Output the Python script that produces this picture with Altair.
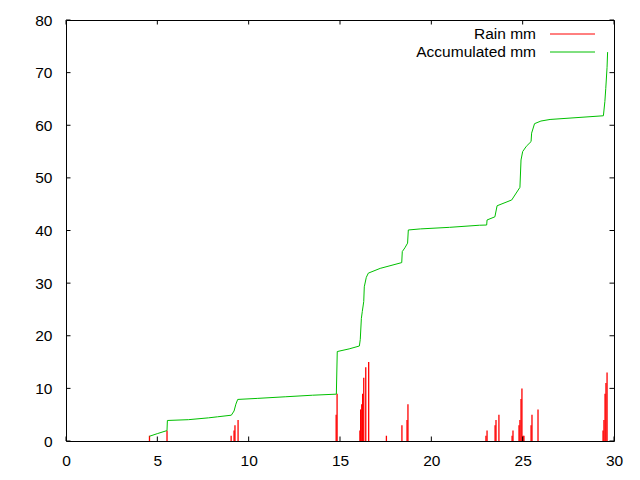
import altair as alt
import pandas as pd

# Rain impulses (day, mm)
rain_day = [4.57, 5.53, 9.04, 9.20, 9.25, 9.42, 14.79, 14.84,
            16.09, 16.13, 16.19, 16.24, 16.30, 16.41, 16.57, 17.54,
            18.39, 18.67, 18.72, 22.99, 23.05, 23.49, 23.54, 23.70,
            24.42, 24.47, 24.80, 24.85, 24.91, 24.96, 25.02, 25.07,
            25.46, 25.51, 25.84, 29.40, 29.45, 29.51, 29.56, 29.62]
rain_mm = [1, 2, 1, 2, 3, 4, 5, 9,
           2, 6, 7, 9, 12, 14, 15, 1,
           3, 4, 7, 1, 2, 3, 4, 5,
           1, 2, 3, 4, 8, 10, 1, 1,
           3, 5, 6, 2, 4, 9, 11, 13]

# Accumulated curve (day, mm)
acc_day = [4.57, 5.0, 5.5, 5.53, 5.55, 6.7, 7.8, 8.3, 9.05, 9.2, 9.3, 9.4,
           10.5, 12.0, 13.5, 14.8, 14.85, 15.5, 16.06, 16.11, 16.17, 16.22,
           16.30, 16.33, 16.44, 16.55, 17.2, 18.38, 18.41, 18.55, 18.70,
           18.74, 19.4, 21.0, 22.63, 23.03, 23.05, 23.48, 23.6, 24.40,
           24.85, 24.91, 25.0, 25.2, 25.46, 25.49, 25.65, 26.0, 26.5,
           29.42, 29.5, 29.55, 29.62, 29.65]
acc_mm = [0.9, 1.4, 1.95, 2.0, 3.9, 4.05, 4.4, 4.6, 4.9, 5.7, 7.0, 7.9,
          8.1, 8.4, 8.7, 8.9, 17.0, 17.5, 18.05, 19.3, 23.3, 24.6,
          26.5, 29.3, 31.1, 31.9, 32.8, 33.9, 36.0, 36.7, 37.6,
          40.1, 40.3, 40.6, 41.0, 41.04, 42.0, 42.6, 44.7, 45.8,
          48.2, 53.4, 55.0, 56.0, 56.9, 58.5, 60.3, 60.8, 61.1,
          61.8, 64.5, 67.0, 71.0, 73.9]

x_ticks = [0, 5, 10, 15, 20, 25, 30]
y_ticks = [0, 10, 20, 30, 40, 50, 60, 70, 80]
legend_labels = ["Rain mm", "Accumulated mm"]
legend_colors = ["#ff0000", "#00c000"]

W, H = 548, 421
FONT = "Liberation Sans"
FS = 15.5

rain_df = pd.DataFrame({"day": rain_day, "mm": rain_mm})
acc_df = pd.DataFrame({"day": acc_day, "mm": acc_mm})
xt_df = pd.DataFrame({"day": x_ticks})
yt_df = pd.DataFrame({"mm": y_ticks})

xs = alt.Scale(domain=[0, 30], nice=False, zero=False)
ys = alt.Scale(domain=[0, 80], nice=False)

xaxis = alt.Axis(values=x_ticks, format="d", labelPadding=12, labelFlush=False)
yaxis = alt.Axis(values=y_ticks, format="d", labelPadding=14, labelFlush=False)

rain = alt.Chart(rain_df).mark_rule(color="#ff0000", strokeWidth=1.3).encode(
    x=alt.X("day:Q", scale=xs, axis=xaxis, title=None),
    y=alt.Y("mm:Q", scale=ys, axis=yaxis, title=None),
    y2=alt.datum(0),
)

acc = alt.Chart(acc_df).mark_line(color="#00c000", strokeWidth=1).encode(
    x=alt.X("day:Q", scale=xs, title=None),
    y=alt.Y("mm:Q", scale=ys, title=None),
)

tl = 4.5
xt_bot = alt.Chart(xt_df).mark_rule(color="black", strokeWidth=1).encode(
    x=alt.X("day:Q", scale=xs, title=None),
    y=alt.value(H), y2=alt.value(H - tl))
xt_top = alt.Chart(xt_df).mark_rule(color="black", strokeWidth=1).encode(
    x=alt.X("day:Q", scale=xs, title=None),
    y=alt.value(0), y2=alt.value(tl))
yt_left = alt.Chart(yt_df).mark_rule(color="black", strokeWidth=1).encode(
    y=alt.Y("mm:Q", scale=ys, title=None),
    x=alt.value(0), x2=alt.value(tl))
yt_right = alt.Chart(yt_df).mark_rule(color="black", strokeWidth=1).encode(
    y=alt.Y("mm:Q", scale=ys, title=None),
    x=alt.value(W), x2=alt.value(W - tl))

leg_rows = [14, 32]
leg_text = []
leg_line = []
for lab, col, yy in zip(legend_labels, legend_colors, leg_rows):
    d = pd.DataFrame({"label": [lab]})
    leg_text.append(alt.Chart(d).mark_text(
        align="right", baseline="middle", font=FONT, fontSize=FS, color="black"
    ).encode(text="label:N", x=alt.value(470), y=alt.value(yy - 0.5)))
    leg_line.append(alt.Chart(d).mark_rule(color=col, strokeWidth=1).encode(
        x=alt.value(484), x2=alt.value(529), y=alt.value(yy)))

chart = alt.layer(rain, acc, xt_bot, xt_top, yt_left, yt_right,
                  *leg_text, *leg_line).properties(
    width=W, height=H,
    autosize=alt.AutoSizeParams(type="none"),
    padding={"left": 58, "top": 12, "right": 18, "bottom": 31},
    background="white",
).configure_view(
    stroke="black", strokeWidth=1
).configure_axis(
    grid=False, ticks=False, domain=False,
    labelFont=FONT, labelFontSize=FS, labelColor="black",
)

chart.save("out.html", embed_options={"renderer": "svg", "actions": False})
